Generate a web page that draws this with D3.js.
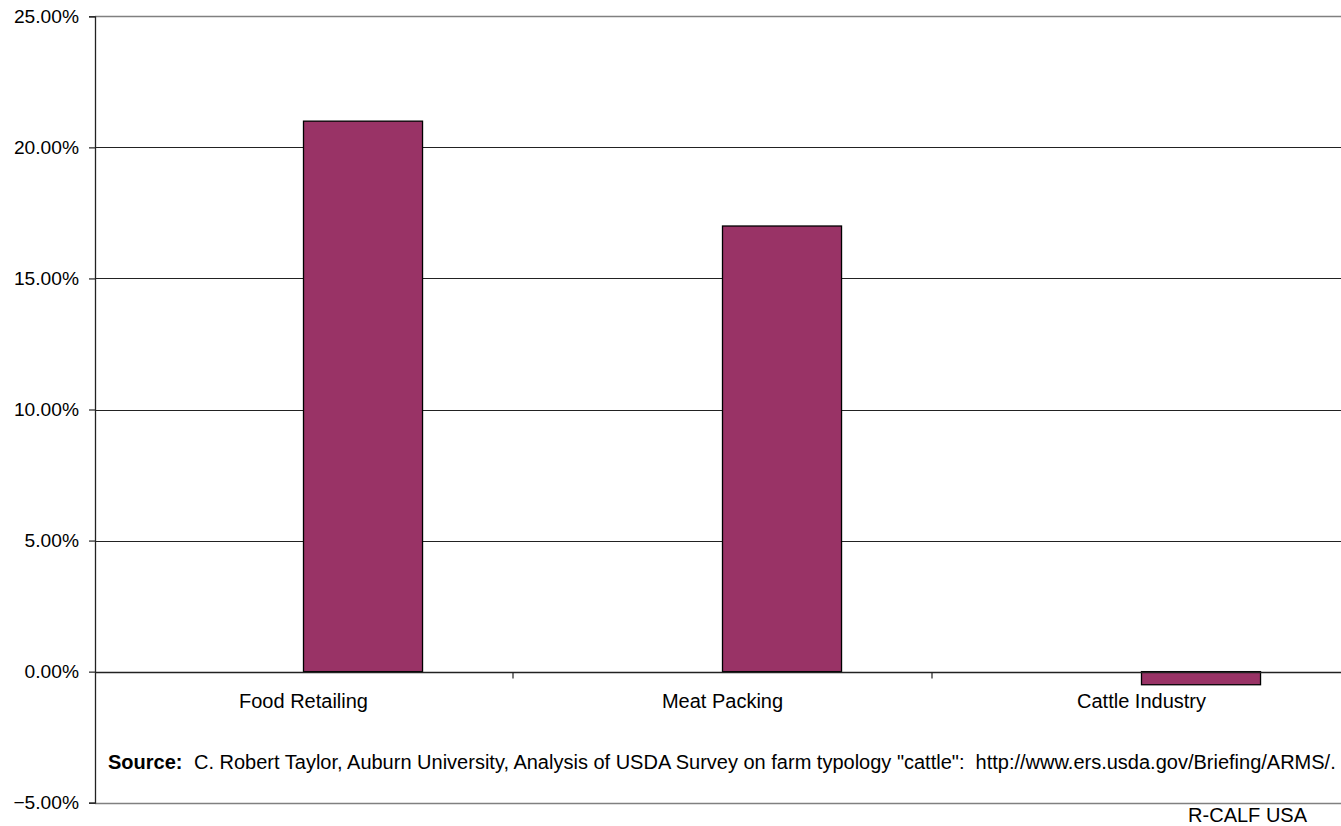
<!DOCTYPE html>
<html>
<head>
<meta charset="utf-8">
<script src="https://cdn.jsdelivr.net/npm/d3@7"></script>
<style>
  html, body { margin: 0; padding: 0; background: #fff; }
  svg { display: block; font-family: "Liberation Sans", Arial, sans-serif; }
</style>
</head>
<body>
<svg id="chart" width="1341" height="826"></svg>
<script>
const categories = ["Food Retailing", "Meat Packing", "Cattle Industry"];
const values = [21.0, 17.0, -0.5];
const yTicks = [-5, 0, 5, 10, 15, 20, 25];
const sourceLabel = "Source:";
const sourceText = "C. Robert Taylor, Auburn University, Analysis of USDA Survey on farm typology \"cattle\":  http://www.ers.usda.gov/Briefing/ARMS/.";
const creditText = "R-CALF USA";

(function () {
const svg = d3.select("#chart");
const mLeft = 95, mRight = 1351, mTop = 16.3, mBottom = 802.7;
const fsY = 19.2, fs = 20;

const y = d3.scaleLinear().domain([-5, 25]).range([mBottom, mTop]);
const x = d3.scaleBand().domain(categories).range([mLeft - 1, mRight]).padding(0);
// clustered slots (first slot empty, as in the original layout)
const slot = d3.scaleBand().domain(["empty", "value"]).range([0, x.bandwidth()])
  .paddingInner(0).paddingOuter(0.76);

// gridlines
svg.append("g").selectAll("line").data(yTicks.filter(t => t > 0 && t < 25)).join("line")
  .attr("x1", mLeft).attr("x2", 1341)
  .attr("y1", d => Math.round(y(d)) + 0.5).attr("y2", d => Math.round(y(d)) + 0.5)
  .attr("stroke", "#222").attr("stroke-width", 1.2);

// plot border top / bottom (gray)
[25, -5].forEach(v => {
  svg.append("line").attr("x1", mLeft).attr("x2", 1341)
    .attr("y1", Math.round(y(v)) + 0.5).attr("y2", Math.round(y(v)) + 0.5)
    .attr("stroke", "#808080").attr("stroke-width", 1.5);
});

// bars
svg.append("g").selectAll("rect").data(categories).join("rect")
  .attr("x", (d) => x(d) + slot("value"))
  .attr("width", slot.bandwidth())
  .attr("y", (d, i) => y(Math.max(0, values[i])))
  .attr("height", (d, i) => Math.abs(y(values[i]) - y(0)))
  .attr("fill", "#993366").attr("stroke", "#000").attr("stroke-width", 1.3);

// y axis
const yAxis = d3.axisLeft(y).tickValues(yTicks).tickSize(6).tickPadding(10)
  .tickFormat(d => d3.format(".2f")(d) + "%");
const gy = svg.append("g").attr("transform", `translate(${mLeft},0)`).call(yAxis);
gy.select(".domain").attr("stroke", "#222").attr("stroke-width", 1.3);
gy.selectAll(".tick line").attr("stroke", "#222").attr("stroke-width", 1.2);
gy.selectAll(".tick text").attr("font-size", fsY).attr("fill", "#000")
  .attr("font-family", "Liberation Sans, Arial, sans-serif");

// x axis at zero
const xAxis = d3.axisBottom(x).tickSize(0).tickPadding(21);
const gx = svg.append("g").attr("transform", `translate(0,${Math.round(y(0)) + 0.5})`).call(xAxis);
gx.select(".domain").remove();
gx.append("line").attr("x1", mLeft).attr("x2", 1341).attr("y1", 0).attr("y2", 0)
  .attr("stroke", "#222").attr("stroke-width", 1.3);
gx.selectAll(".tick text").attr("font-size", fs).attr("fill", "#000")
  .attr("font-family", "Liberation Sans, Arial, sans-serif");
// category boundary ticks
gx.append("g").selectAll("line").data(categories.slice(1)).join("line")
  .attr("x1", d => x(d)).attr("x2", d => x(d)).attr("y1", 0).attr("y2", 6)
  .attr("stroke", "#222").attr("stroke-width", 1.2);

// source note
const src = svg.append("text").attr("y", 768.5).attr("font-size", fs).attr("fill", "#000");
src.append("tspan").attr("x", 108).attr("font-weight", "bold").text(sourceLabel);
src.append("tspan").attr("x", 194).attr("xml:space", "preserve").text(sourceText);

// credit
svg.append("text").attr("x", 1307).attr("y", 822).attr("text-anchor", "end")
  .attr("font-size", fs).attr("fill", "#000").text(creditText);
})();
</script>
</body>
</html>
